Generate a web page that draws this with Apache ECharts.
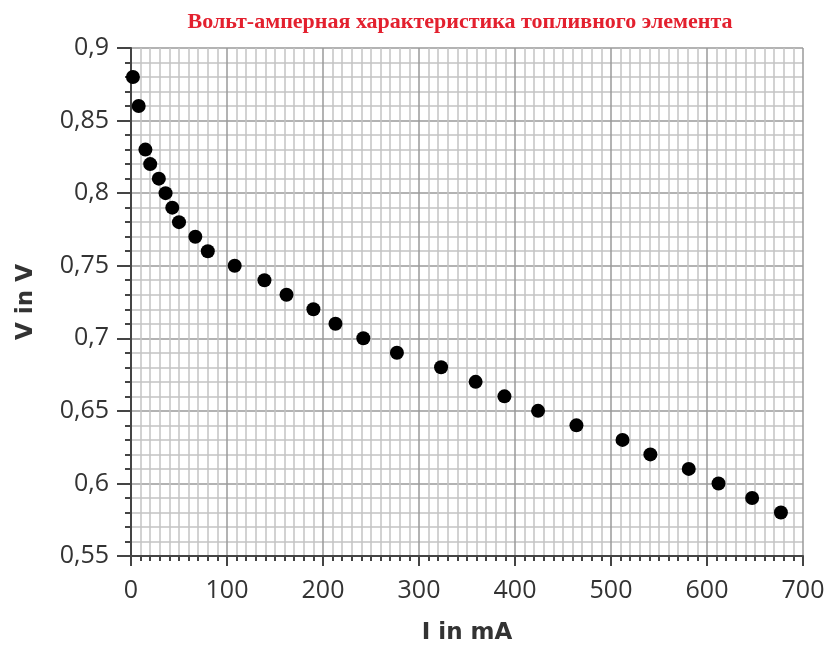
<!DOCTYPE html>
<html>
<head>
<meta charset="utf-8">
<script src="https://cdn.jsdelivr.net/npm/echarts@6/dist/echarts.min.js"></script>
<style>
  html, body { margin: 0; padding: 0; background: #fff; }
  #chart { width: 829px; height: 646px; }
</style>
</head>
<body>
<div id="chart"></div>
<script>
// ток, мА
const currentMA = [2, 8, 15, 20, 29, 36, 43, 50, 67, 80, 108, 139, 162, 190, 213, 242, 277, 323, 359, 389, 424, 464, 512, 541, 581, 612, 647, 677]
// напряжение, В
const voltageV = [0.88, 0.86, 0.83, 0.82, 0.81, 0.80, 0.79, 0.78, 0.77, 0.76, 0.75, 0.74, 0.73, 0.72, 0.71, 0.70, 0.69, 0.68, 0.67, 0.66, 0.65, 0.64, 0.63, 0.62, 0.61, 0.60, 0.59, 0.58]

const points = currentMA.map((x, i) => [x, voltageV[i]])

const chart = echarts.init(document.getElementById('chart'))
const font = '"Open Sans", "Noto Sans", sans-serif'
const nameFont = '"DejaVu Sans", sans-serif'

const option = {
  backgroundColor: '#fff',
  animation: false,
  title: {
    text: 'Вольт-амперная характеристика топливного элемента',
    left: 455,
    top: 6,
    textAlign: 'center',
    textStyle: {
      color: '#e3202e',
      fontFamily: '"Liberation Serif", "DejaVu Serif", serif',
      fontWeight: 'bold',
      fontSize: 22,
    },
  },
  grid: { left: 131, right: 26, top: 48, bottom: 90, outerBoundsMode: 'none' },
  xAxis: {
    type: 'value',
    min: 0,
    max: 700,
    interval: 100,
    name: 'I in mA',
    nameLocation: 'middle',
    nameGap: 66,
    nameTextStyle: { fontFamily: nameFont, fontWeight: 'bold', fontSize: 23, color: '#333' },
    axisLine: { show: true, lineStyle: { color: '#444', width: 2 } },
    axisTick: { show: true, length: 10, lineStyle: { color: '#444', width: 2 } },
    minorTick: { show: true, splitNumber: 10, length: 5, lineStyle: { color: '#444', width: 2 } },
    axisLabel: { fontFamily: font, fontSize: 25, color: '#333', margin: 22 },
    splitLine: { show: true, lineStyle: { color: '#9a9a9a', width: 1.5 } },
    minorSplitLine: { show: true, lineStyle: { color: '#c4c4c4', width: 1.5 } },
  },
  yAxis: {
    type: 'value',
    min: 0.55,
    max: 0.9,
    interval: 0.05,
    name: 'V in V',
    nameLocation: 'middle',
    nameGap: 93,
    nameTextStyle: { fontFamily: nameFont, fontWeight: 'bold', fontSize: 23, color: '#333' },
    axisLine: { show: true, lineStyle: { color: '#444', width: 2 } },
    axisTick: { show: true, length: 14, lineStyle: { color: '#444', width: 2 } },
    minorTick: { show: true, splitNumber: 5, length: 6, lineStyle: { color: '#444', width: 2 } },
    axisLabel: {
      fontFamily: font,
      fontSize: 25,
      color: '#333',
      margin: 22,
      formatter: v => String(+v.toFixed(2)).replace('.', ','),
    },
    splitLine: { show: true, lineStyle: { color: '#9a9a9a', width: 1.5 } },
    minorSplitLine: { show: true, lineStyle: { color: '#c4c4c4', width: 1.5 } },
  },
  series: [
    {
      type: 'scatter',
      data: points,
      symbol: 'circle',
      symbolSize: 14,
      itemStyle: { color: '#000', opacity: 1 },
    },
  ],
}

chart.setOption(option)
</script>
</body>
</html>
